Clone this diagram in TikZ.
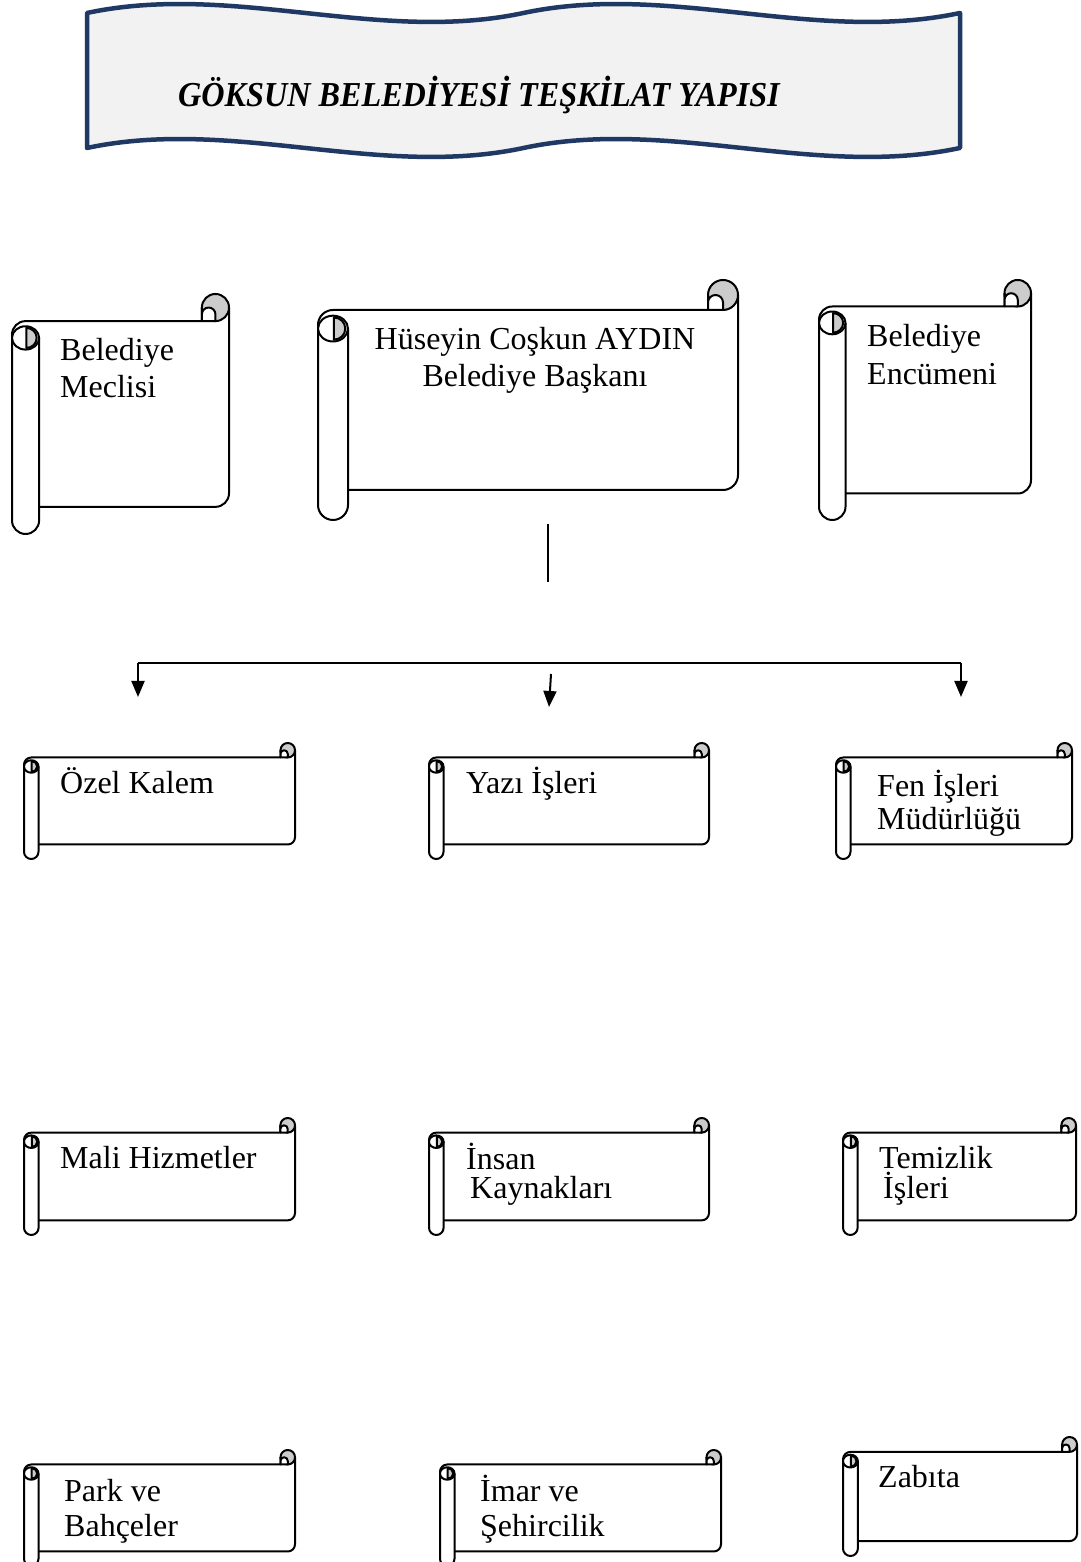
\documentclass[tikz,border=0pt]{standalone}
\usepackage{fontspec}
\usepackage{graphicx}
\setmainfont{Liberation Serif}
\usetikzlibrary{arrows.meta}
\definecolor{curlgray}{HTML}{CCCCCC}
\definecolor{bannerfill}{HTML}{F2F2F2}
\definecolor{bannerline}{HTML}{1F3864}
\tikzset{
  scrollline/.style={line width=2pt, line join=round, draw=black},
  boxtext/.style={inner sep=0pt, anchor=base west, align=left, font=\fontsize{32}{37}\selectfont},
  conn/.style={line width=2pt, draw=black},
  arr/.style={conn, -{Triangle[length=16pt,width=13pt]}},
}
% l t r b in pixel coordinates (y downward)
\newcommand\scrollbox[4]{%
  \pgfmathsetmacro\scL{#1}%
  \pgfmathsetmacro\scR{#3}%
  \pgfmathsetmacro\scT{1562-#2}%
  \pgfmathsetmacro\scB{1562-#4}%
  \pgfmathsetmacro\scC{0.125*min(#3-#1,#4-#2)}%
  \pgfmathsetmacro\scH{\scC/2}%
  \pgfmathsetmacro\scQ{\scC/4}%
  \pgfmathsetmacro\scE{\scT-1.62*\scC}%
  \fill[white] ({\scL+\scH},{\scB+\scC}) rectangle (\scR,{\scT-\scC});
  \draw[scrollline] ({\scR-\scC},{\scT-\scH}) -- ({\scR-\scC},{\scT-\scC}) -- ({\scL+\scH},{\scT-\scC})
     arc[start angle=90,end angle=180,radius=\scH] -- (\scL,{\scB+\scH})
     arc[start angle=180,end angle=360,radius=\scH] -- ({\scL+\scC},\scE);
  \draw[scrollline] ({\scL+\scC},{\scB+\scC}) -- ({\scR-\scH},{\scB+\scC})
     arc[start angle=270,end angle=360,radius=\scH] -- (\scR,{\scT-\scH});
  \draw[scrollline,fill=curlgray] ({\scR-\scH},{\scT-\scH}) circle[radius=\scH];
  \fill[white] ({\scR-\scC},{\scT-\scH}) -- ({\scR-\scC},{\scT-\scC}) -- ({\scR-\scH},{\scT-\scC})
     -- ({\scR-\scH},{\scT-\scH-\scQ}) arc[start angle=0,end angle=180,radius=\scQ] -- cycle;
  \draw[scrollline] ({\scR-\scC},{\scT-\scH}) -- ({\scR-\scC},{\scT-\scC}) -- ({\scR-\scH},{\scT-\scC})
     -- ({\scR-\scH},{\scT-\scH-\scQ}) arc[start angle=0,end angle=180,radius=\scQ];
  \draw[scrollline,fill=white] ({\scL+\scH},\scE) ellipse[x radius=\scH, y radius={0.43*\scC}];
  \draw[scrollline,fill=curlgray] ({\scL+\scH+0.03*\scC},{\scE+0.37*\scC})
     arc[start angle=90,end angle=-90,x radius={0.38*\scC},y radius={0.37*\scC}] -- cycle;
}
\begin{document}
\begin{tikzpicture}[x=1pt,y=1pt]
\useasboundingbox (0,0) rectangle (1080,1562);
\fill[white] (0,0) rectangle (1080,1562);

% title banner
\draw[line width=4.5pt, draw=bannerline, fill=bannerfill, line join=round]
  (87,1549) .. controls (232.5,1580) and (378,1518) .. (523.5,1549)
  .. controls (669,1580) and (814.5,1518) .. (960,1549)
  -- (960,1414)
  .. controls (814.5,1383) and (669,1445) .. (523.5,1414)
  .. controls (378,1383) and (232.5,1445) .. (87,1414) -- cycle;
\node[inner sep=0pt, anchor=base west, font=\fontsize{35}{40}\selectfont\bfseries\itshape] (title) at (178,1455)
  {\scalebox{0.92}[1]{GÖKSUN BELEDİYESİ TEŞKİLAT YAPISI}};

% top row
\scrollbox{12}{294}{229}{534}
\scrollbox{318}{280}{738}{520}
\scrollbox{819}{280}{1031}{520}
\node[boxtext] (meclis) at (60,1164) {Belediye\\Meclisi};
\node[boxtext, anchor=base, align=center] (baskan) at (535,1175) {Hüseyin Coşkun AYDIN\\Belediye Başkanı};
\node[boxtext, font=\fontsize{32}{38}\selectfont] (encumen) at (867,1177) {Belediye\\Encümeni};

% connectors
\coordinate (vtop) at (548,1038);
\coordinate (vbot) at (548,980);
\coordinate (hl) at (138,899);
\coordinate (hr) at (961,899);
\coordinate (tipl) at (138,865);
\coordinate (tipr) at (961,865);
\coordinate (mtop) at (551,888);
\coordinate (tipm) at (549,855);
\draw[conn] (vtop) -- (vbot);
\draw[conn, line width=2.6pt] (hl) -- (hr);
\draw[arr] (hl) -- (tipl);
\draw[arr] (hr) -- (tipr);
\draw[arr] (mtop) -- (tipm);

% second row
\scrollbox{24}{743}{295}{859}
\scrollbox{429}{743}{709}{859}
\scrollbox{836}{743}{1072}{859}
\node[boxtext] (ozel) at (60,768) {Özel Kalem};
\node[boxtext] (yazi) at (466,768) {Yazı İşleri};
\node[boxtext, font=\fontsize{32}{33}\selectfont] (fen) at (877,732) {Fen İşleri\\Müdürlüğü};

% third row
\scrollbox{24}{1118}{295}{1235}
\scrollbox{429}{1118}{709}{1235}
\scrollbox{843}{1118}{1076}{1235}
\node[boxtext] (mali) at (60,393) {Mali Hizmetler};
\node[boxtext, font=\fontsize{32}{29}\selectfont] (insan) at (466,363) {İnsan\\\hspace*{4pt}Kaynakları};
\node[boxtext, font=\fontsize{32}{30}\selectfont] (temizlik) at (879,363) {Temizlik\\\hspace*{4pt}İşleri};

% fourth row
\scrollbox{24}{1450}{295}{1566}
\scrollbox{440}{1450}{721}{1566}
\scrollbox{843}{1437}{1077}{1556}
\node[boxtext, font=\fontsize{32}{35}\selectfont] (park) at (64,25) {Park ve\\Bahçeler};
\node[boxtext, font=\fontsize{32}{35}\selectfont] (imar) at (480,25) {İmar ve\\Şehircilik};
\node[boxtext] (zabita) at (878,74) {Zabıta};
\end{tikzpicture}
\end{document}
